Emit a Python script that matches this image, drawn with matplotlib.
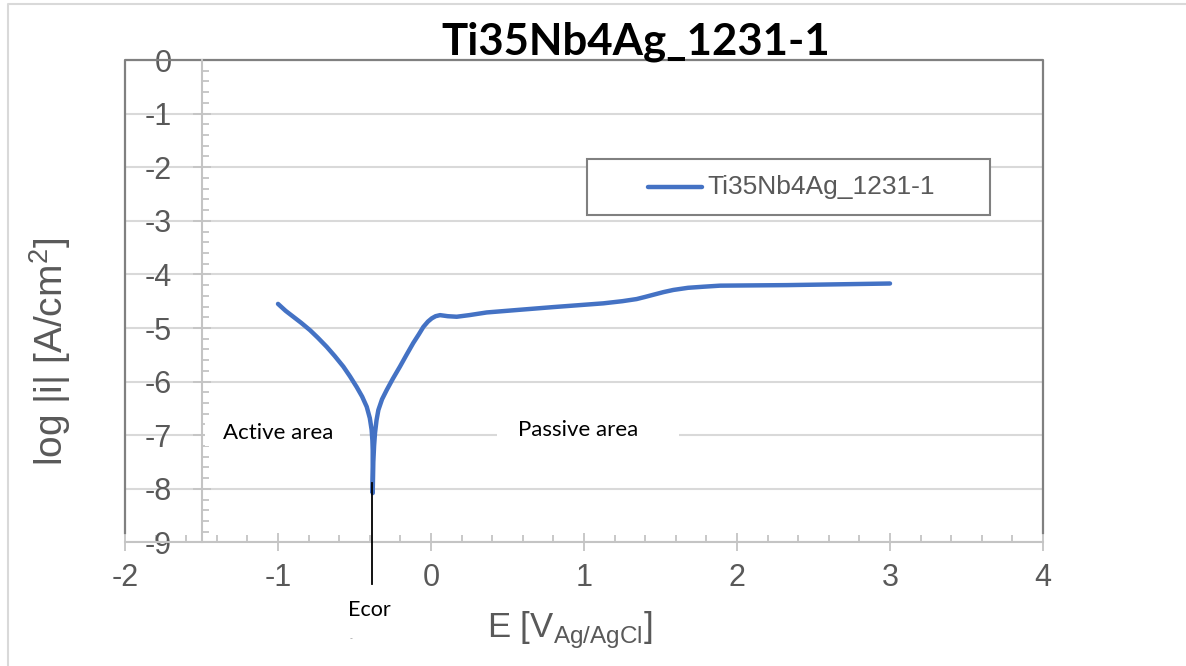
import matplotlib
matplotlib.use("Agg")
import matplotlib.pyplot as plt
from matplotlib.ticker import MultipleLocator
from matplotlib.lines import Line2D
from matplotlib.patches import Rectangle

plt.rcParams['font.family'] = ['Liberation Sans', 'DejaVu Sans']
plt.rcParams['axes.unicode_minus'] = False

# ---- data ----
series_name = "Ti35Nb4Ag_1231-1"
E_V = [-1.0, -0.95, -0.90, -0.85, -0.791, -0.74, -0.682, -0.63, -0.573, -0.53,
       -0.486, -0.45, -0.420, -0.40, -0.388, -0.383, -0.381, -0.381,
       -0.377, -0.372, -0.366, -0.356, -0.344, -0.32, -0.290, -0.25, -0.203, -0.16,
       -0.116, -0.08, -0.050, -0.02, 0.005, 0.03, 0.059, 0.11, 0.168, 0.25,
       0.364, 0.58, 0.799, 1.126, 1.25, 1.344, 1.40, 1.453, 1.52, 1.584,
       1.68, 1.780, 1.889, 2.325, 3.0]
log_i = [-4.55, -4.68, -4.79, -4.90, -5.04, -5.18, -5.35, -5.52, -5.72, -5.90,
         -6.10, -6.28, -6.47, -6.68, -6.90, -7.10, -7.28, -8.08,
         -7.50, -7.20, -6.96, -6.72, -6.53, -6.33, -6.16, -5.95, -5.72, -5.50,
         -5.28, -5.12, -4.98, -4.88, -4.82, -4.78, -4.76, -4.78, -4.79, -4.76,
         -4.71, -4.66, -4.61, -4.54, -4.50, -4.46, -4.42, -4.38, -4.33, -4.29,
         -4.25, -4.23, -4.21, -4.20, -4.17]
x_ticks = [-2, -1, 0, 1, 2, 3, 4]
y_ticks = [0, -1, -2, -3, -4, -5, -6, -7, -8, -9]
E_cor = -0.384

W, H = 1186, 666
fig = plt.figure(figsize=(W / 100, H / 100), dpi=100)
ax = fig.add_axes([125 / W, (H - 542.4) / H, 918 / W, 482.4 / H])
ax.set_xlim(-2, 4)
ax.set_ylim(-9, 0)

axis_grey = '#c4c4c4'
frame_grey = '#808080'
text_grey = '#595959'

# spines
ax.spines['top'].set_visible(False)
ax.spines['right'].set_visible(False)
ax.spines['left'].set_position(('data', -1.5))
for s in ('left', 'bottom'):
    ax.spines[s].set_color(axis_grey)
    ax.spines[s].set_linewidth(1.5)
    ax.spines[s].set_zorder(1.5)

# dark frame (left, top, right)
ax.plot([0, 0, 1, 1], [0.02, 1, 1, 0.02], transform=ax.transAxes, color=frame_grey,
        lw=1.6, clip_on=False, zorder=1.4)

ax.set_xticks(x_ticks)
ax.set_yticks(y_ticks)
ax.xaxis.set_minor_locator(MultipleLocator(0.2))
ax.yaxis.set_minor_locator(MultipleLocator(0.2))
ax.tick_params(which='major', direction='inout', length=13, width=1.3, color=axis_grey,
               labelsize=22, labelcolor=text_grey)
ax.tick_params(axis='y', which='major', pad=15)
ax.tick_params(axis='x', which='major', pad=8)
ax.tick_params(which='minor', direction='in', length=5, width=1.3, color=axis_grey)

ax.yaxis.grid(True, which='major', color='#d9d9d9', lw=1.5)
ax.set_axisbelow(True)

# curve
ax.plot(E_V, log_i, color='#4472C4', lw=3.2, solid_capstyle='round',
        solid_joinstyle='round', zorder=3, label=series_name)

# area labels with white boxes
ax.add_patch(Rectangle((-1.477, -7.2), 1.013, 0.45, facecolor='white', edgecolor='none', zorder=1))
ax.text(-1.359, -6.96, 'Active area', family='Lato', fontsize=16, color='black',
        ha='left', va='center', zorder=4)
ax.add_patch(Rectangle((0.431, -7.2), 1.19, 0.45, facecolor='white', edgecolor='none', zorder=1))
ax.text(0.569, -6.90, 'Passive area', family='Lato', fontsize=16, color='black',
        ha='left', va='center', zorder=4)

# Ecor marker
ax.plot([E_cor, E_cor], [-7.89, -9.78], color='black', lw=1.3, clip_on=False, zorder=4)
ax.text(-0.405, -10.26, 'Ecor', family='Lato', fontsize=15.5, color='black',
        ha='center', va='center', clip_on=False)
ax.text(-0.52, -10.78, '..', fontsize=5, color='#777777', ha='center', va='center', clip_on=False)

# title
fig.text(636 / W, 1 - 42 / H, series_name, family='Lato', fontweight='bold', fontsize=31.5,
         ha='center', va='center', color='black')

# axis titles
fig.text(570 / W, 1 - 630 / H, r'E [V$_{\mathregular{Ag/AgCl}}$]', fontsize=25, color=text_grey,
         ha='center', va='center')
fig.text(50 / W, 1 - 352 / H, r'log |i| [A/cm$^{\mathregular{2}}$]', fontsize=28, color=text_grey,
         rotation=90, ha='center', va='center')

# legend (manual box to match layout)
fig.patches.append(Rectangle((587 / W, 1 - 215 / H), (990 - 587) / W, 56 / H,
                             transform=fig.transFigure, facecolor='white',
                             edgecolor=frame_grey, lw=1.5, zorder=5))
fig.lines.append(Line2D([648 / W, 702 / W], [1 - 187 / H, 1 - 187 / H],
                        transform=fig.transFigure, color='#4472C4', lw=3.2,
                        solid_capstyle='round', zorder=6))
fig.text(707 / W, 1 - 187 / H, series_name, fontsize=19, color=text_grey,
         ha='left', va='center', zorder=6)

# outer border
fig.lines.append(Line2D([8 / W, 8 / W, 1], [0, 1 - 4 / H, 1 - 4 / H],
                        transform=fig.transFigure, color='#d9d9d9', lw=1.5))

fig.savefig('out.png', dpi=100)
